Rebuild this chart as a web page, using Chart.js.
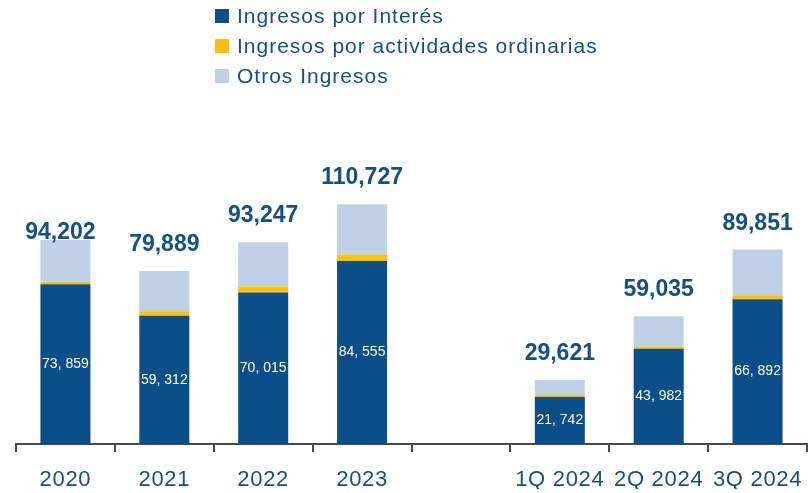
<!DOCTYPE html>
<html>
<head>
<meta charset="utf-8">
<script src="https://cdn.jsdelivr.net/npm/chart.js@4.4.1/dist/chart.umd.min.js"></script>
<style>
  html, body { margin: 0; padding: 0; background: #ffffff; }
  #wrap { position: relative; width: 808px; height: 493px; overflow: hidden; }
  #chart { position: absolute; left: 0; top: 0; }
  .lg-row { position: absolute; left: 215px; height: 30px; line-height: 30px;
            font-family: 'Liberation Sans', Arial, sans-serif; font-size: 21px;
            letter-spacing: 1px; color: #13508a; white-space: nowrap; }
  .lg-box { position: absolute; left: 0; top: 8px; width: 14px; height: 14px; }
  .lg-text { position: absolute; left: 22px; top: 0; }
</style>
</head>
<body>
<div id="wrap">
  <canvas id="chart" width="808" height="493"></canvas>
  <div id="legend"></div>
</div>
<script>
// ---- Data ----
const categories  = ['2020', '2021', '2022', '2023', '', '1Q 2024', '2Q 2024', '3Q 2024'];
const interes     = [73859, 59312, 70015, 84555, null, 21742, 43982, 66892];
const actividades = [1000, 2000, 2800, 2900, null, 900, 1050, 1850];
const otros       = [19343, 18577, 20432, 23272, null, 6979, 14003, 21109];
const totales     = [94202, 79889, 93247, 110727, null, 29621, 59035, 89851];
const seriesNames = ['Ingresos por Interés', 'Ingresos por actividades ordinarias', 'Otros Ingresos'];

const COLORS = ['#0b4f8a', '#ffc000', '#bfd1e6'];
const TEXT = '#13508a';
const FONT = "'Liberation Sans', Arial, sans-serif";

// HTML legend
const legendEl = document.getElementById('legend');
seriesNames.forEach((name, i) => {
  const row = document.createElement('div');
  row.className = 'lg-row';
  row.style.top = (1 + i * 30) + 'px';
  const box = document.createElement('span');
  box.className = 'lg-box';
  box.style.background = COLORS[i];
  const txt = document.createElement('span');
  txt.className = 'lg-text';
  txt.textContent = name;
  row.appendChild(box);
  row.appendChild(txt);
  legendEl.appendChild(row);
});

const fmt = v => v.toLocaleString('en-US');

const labelPlugin = {
  id: 'barLabels',
  beforeDraw(chart) {
    chart.ctx.letterSpacing = '0.7px';
  },
  afterDatasetsDraw(chart, args, opts) {
    const ctx = chart.ctx;
    ctx.save();
    ctx.letterSpacing = '0px';
    // inner labels for the first series
    const m0 = chart.getDatasetMeta(0);
    ctx.fillStyle = '#ffffff';
    ctx.font = '14px ' + FONT;
    ctx.textAlign = 'center';
    ctx.textBaseline = 'middle';
    m0.data.forEach((bar, i) => {
      const v = interes[i];
      if (v == null) return;
      const cy = (bar.y + bar.base) / 2;
      ctx.fillText(fmt(v).replace(',', ', '), bar.x, cy);
    });
    // totals above stacks
    const mTop = chart.getDatasetMeta(2);
    ctx.fillStyle = TEXT;
    ctx.font = 'bold 23px ' + FONT;
    ctx.textBaseline = 'alphabetic';
    mTop.data.forEach((bar, i) => {
      const t = totales[i];
      if (t == null) return;
      const sh = (opts.shifts && opts.shifts[i]) || { dx: 0, gap: opts.gap };
      ctx.fillText(fmt(t), bar.x + sh.dx, bar.y - sh.gap);
    });
    ctx.restore();
  }
};

new Chart(document.getElementById('chart'), {
  type: 'bar',
  data: {
    labels: categories,
    datasets: [
      { label: seriesNames[0], data: interes, backgroundColor: COLORS[0] },
      { label: seriesNames[1], data: actividades, backgroundColor: COLORS[1] },
      { label: seriesNames[2], data: otros, backgroundColor: COLORS[2] }
    ]
  },
  options: {
    responsive: false,
    animation: false,
    events: [],
    layout: { padding: { top: 141, left: 16, right: 1, bottom: 4 } },
    datasets: { bar: { categoryPercentage: 1, barPercentage: 0.506, borderWidth: 0 } },
    plugins: {
      legend: { display: false },
      tooltip: { enabled: false },
      barLabels: { gap: 20, shifts: { 0: { dx: -5, gap: 1 } } }
    },
    scales: {
      x: {
        stacked: true,
        offset: true,
        afterFit(scale) { scale.height = 45; scale.paddingLeft = 0; scale.paddingRight = 0; },
        grid: { display: true, drawOnChartArea: false, drawTicks: true, tickLength: 8,
                color: '#454a50', lineWidth: 2, offset: true },
        border: { display: true, color: '#454a50', width: 2 },
        ticks: { color: TEXT, font: { family: FONT, size: 22 }, padding: 15,
                 maxRotation: 0, autoSkip: false }
      },
      y: {
        stacked: true,
        display: false,
        min: 0,
        max: 140000
      }
    }
  },
  plugins: [labelPlugin]
});
</script>
</body>
</html>
